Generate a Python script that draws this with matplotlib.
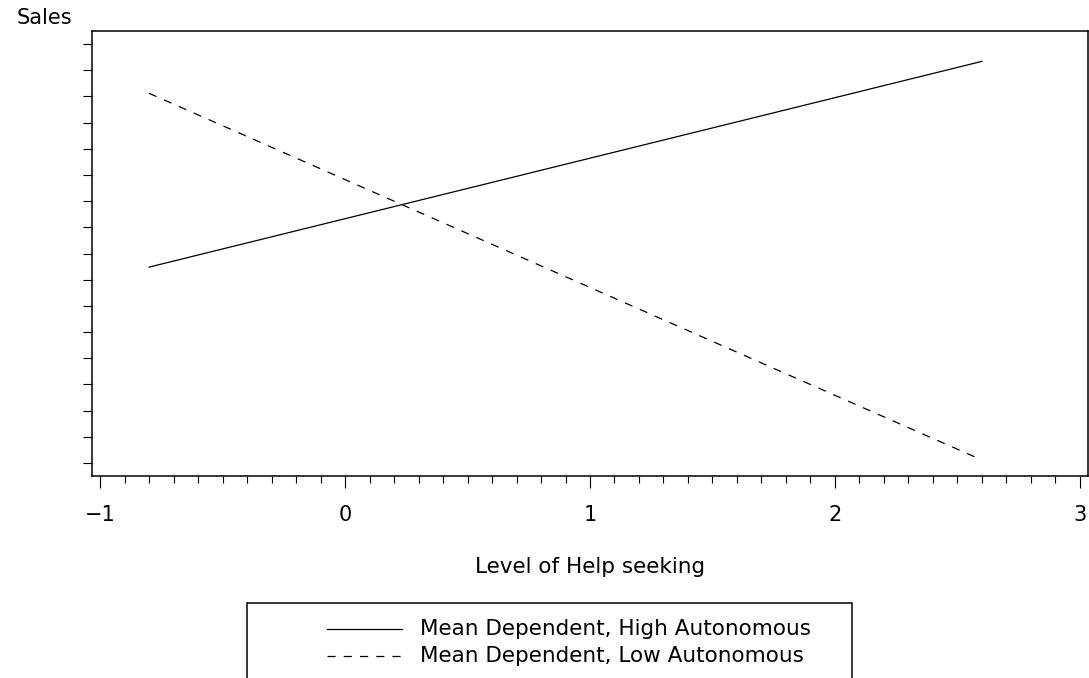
import numpy as np
import matplotlib
matplotlib.use('Agg')
import matplotlib.pyplot as plt
from matplotlib.lines import Line2D
from matplotlib.patches import Rectangle
from matplotlib.ticker import MultipleLocator

# data (y axis has no labels, units are tick steps)
help_seeking = [-0.8, 2.6]
high_auto = [8.48, 16.34]
low_auto = [15.12, 1.11]
y_ticks = np.arange(1, 18)
x_ticks = [-1, 0, 1, 2, 3]
labels = ['Mean Dependent, High Autonomous', 'Mean Dependent, Low Autonomous']

W, H = 1089, 678
fig = plt.figure(figsize=(W / 100, H / 100), dpi=100)
ax = fig.add_axes([92 / W, 1 - 476 / H, 996 / W, 445 / H])

dash = (0, (6.5, 6.5))
ax.plot(help_seeking, high_auto, color='black', lw=0.9)
ax.plot(help_seeking, low_auto, color='black', lw=0.9, linestyle=dash)

ax.set_xlim(-1.033, 3.033)
ax.set_ylim(0.5, 17.5)
ax.set_xticks(x_ticks)
ax.set_xticklabels(['\u22121', '0', '1', '2', '3'])
ax.xaxis.set_minor_locator(MultipleLocator(0.1))
ax.set_yticks(y_ticks)
ax.set_yticklabels([])

ax.tick_params(axis='x', which='major', direction='out', length=8.6, width=0.8,
               pad=12, labelsize=15)
ax.tick_params(axis='x', which='minor', direction='out', length=5, width=0.8)
ax.tick_params(axis='y', which='major', direction='out', length=6.5, width=0.8)
for s in ax.spines.values():
    s.set_linewidth(1.1)

ax.set_xlabel('Level of Help seeking', fontsize=15.5, labelpad=23)
fig.text(17 / W, 1 - 18 / H, 'Sales', fontsize=15, ha='left', va='center')

# legend box, bottom edge runs off the figure
fig.add_artist(Rectangle((247 / W, -0.05), (852 - 247) / W, 1 - 603 / H + 0.05,
                         transform=fig.transFigure, fill=False, lw=1.1,
                         edgecolor='black'))
rows = [629, 656]
styles = ['-', dash]
for yy, st, lab in zip(rows, styles, labels):
    fig.add_artist(Line2D([327 / W, 402 / W], [1 - yy / H, 1 - yy / H],
                          transform=fig.transFigure, color='black', lw=0.9,
                          linestyle=st))
    fig.text(420 / W, 1 - yy / H, lab, fontsize=15.5, ha='left', va='center')

fig.savefig('out.png', dpi=100)
